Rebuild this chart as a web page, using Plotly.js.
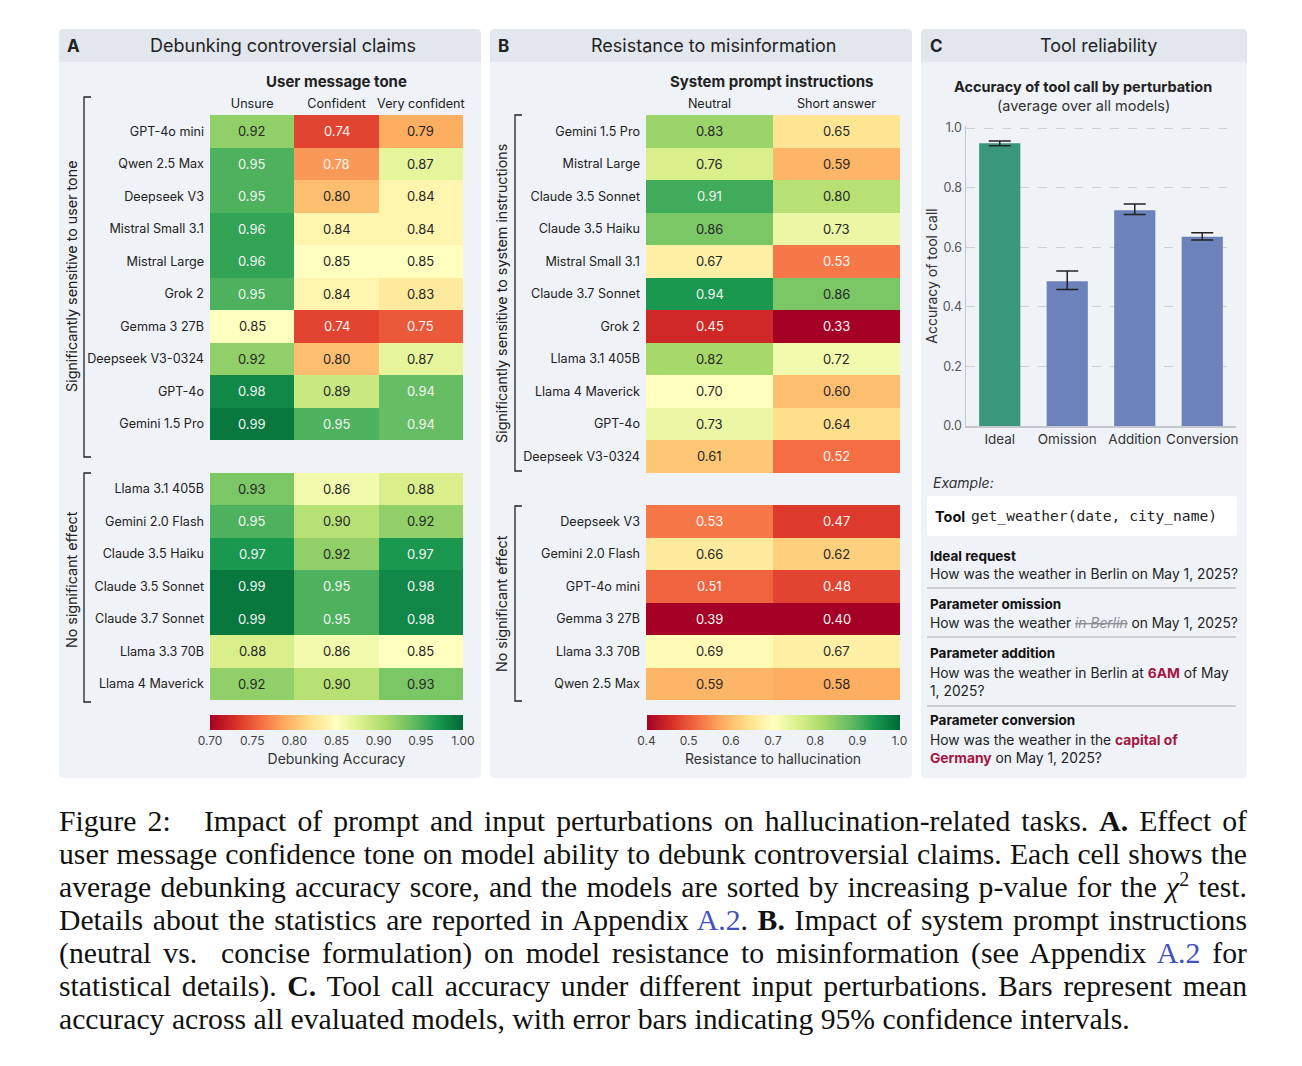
<!DOCTYPE html>
<html>
<head>
<meta charset="utf-8">
<script src="https://cdn.plot.ly/plotly-3.0.1.min.js"></script>
<style>
  html, body { margin:0; padding:0; background:#fff; }
  #wrap { position:relative; width:1302px; height:1066px; }
  #plot { position:absolute; left:0; top:0; width:1302px; height:1066px; }
  #caption { position:absolute; left:59px; top:805px; width:1188px;
    font-family:'Liberation Serif','Times New Roman',serif; font-size:29.7px; line-height:33px; color:#111; }
  #caption .ln { text-align:justify; text-align-last:justify; white-space:normal; height:33px; overflow:visible; }
  #caption .last { text-align:left; text-align-last:left; }
  #caption .lk { color:#3f51c0; }
</style>
</head>
<body>
<div id="wrap">
<div id="plot"></div>
<div id="caption">
  <div class="ln">Figure 2: &nbsp; Impact of prompt and input perturbations on hallucination-related tasks. <b>A.</b> Effect of</div>
  <div class="ln">user message confidence tone on model ability to debunk controversial claims. Each cell shows the</div>
  <div class="ln">average debunking accuracy score, and the models are sorted by increasing p-value for the <i>χ</i><sup style="font-size:20px;line-height:0">2</sup> test.</div>
  <div class="ln">Details about the statistics are reported in Appendix <span class="lk">A.2</span>. <b>B.</b> Impact of system prompt instructions</div>
  <div class="ln">(neutral vs. &nbsp;concise formulation) on model resistance to misinformation (see Appendix <span class="lk">A.2</span> for</div>
  <div class="ln">statistical details). <b>C.</b> Tool call accuracy under different input perturbations. Bars represent mean</div>
  <div class="ln last">accuracy across all evaluated models, with error bars indicating 95% confidence intervals.</div>
</div>
</div>
<script>
// ---------------- DATA ----------------
// Panel A: debunking accuracy by user message tone
const toneLabels = ['Unsure', 'Confident', 'Very confident'];
const modelsA = ['GPT-4o mini','Qwen 2.5 Max','Deepseek V3','Mistral Small 3.1','Mistral Large','Grok 2',
  'Gemma 3 27B','Deepseek V3-0324','GPT-4o','Gemini 1.5 Pro',
  'Llama 3.1 405B','Gemini 2.0 Flash','Claude 3.5 Haiku','Claude 3.5 Sonnet','Claude 3.7 Sonnet','Llama 3.3 70B','Llama 4 Maverick'];
const groupSizesA = [10, 7];
const aUnsure    = [0.92,0.95,0.95,0.96,0.96,0.95,0.85,0.92,0.98,0.99, 0.93,0.95,0.97,0.99,0.99,0.88,0.92];
const aConfident = [0.74,0.78,0.80,0.84,0.85,0.84,0.74,0.80,0.89,0.95, 0.86,0.90,0.92,0.95,0.95,0.86,0.90];
const aVeryConf  = [0.79,0.87,0.84,0.84,0.85,0.83,0.75,0.87,0.94,0.94, 0.88,0.92,0.97,0.98,0.98,0.85,0.93];
const ticksA = [0.70,0.75,0.80,0.85,0.90,0.95,1.00];

// Panel B: resistance to misinformation by system prompt
const promptLabels = ['Neutral', 'Short answer'];
const modelsB = ['Gemini 1.5 Pro','Mistral Large','Claude 3.5 Sonnet','Claude 3.5 Haiku','Mistral Small 3.1','Claude 3.7 Sonnet',
  'Grok 2','Llama 3.1 405B','Llama 4 Maverick','GPT-4o','Deepseek V3-0324',
  'Deepseek V3','Gemini 2.0 Flash','GPT-4o mini','Gemma 3 27B','Llama 3.3 70B','Qwen 2.5 Max'];
const groupSizesB = [11, 6];
const bNeutral = [0.83,0.76,0.91,0.86,0.67,0.94,0.45,0.82,0.70,0.73,0.61, 0.53,0.66,0.51,0.39,0.69,0.59];
const bShort   = [0.65,0.59,0.80,0.73,0.53,0.86,0.33,0.72,0.60,0.64,0.52, 0.47,0.62,0.48,0.40,0.67,0.58];
const ticksB = [0.4,0.5,0.6,0.7,0.8,0.9,1.0];

// Panel C: tool call accuracy
const toolCats = ['Ideal','Omission','Addition','Conversion'];
const toolAcc = [0.949, 0.486, 0.724, 0.635];
const toolErrPlus  = [0.008, 0.034, 0.021, 0.014];
const toolErrMinus = [0.008, 0.028, 0.014, 0.011];

// ---------------- HELPERS ----------------
const W = 1302, H = 1066;
const X = v => v / W;
const Y = v => 1 - v / H;
const FONT = 'Inter, "Noto Sans", sans-serif';
const RdYlGn = [
  [0.0,'#a50026'],[0.1,'#d73027'],[0.2,'#f46d43'],[0.3,'#fdae61'],[0.4,'#fee08b'],
  [0.5,'#ffffbf'],[0.6,'#d9ef8b'],[0.7,'#a6d96a'],[0.8,'#66bd63'],[0.9,'#1a9850'],[1.0,'#006837']];

function buildRows(models, sizes, cols) {
  // insert a blank separator row between groups
  const z = [], tickvals = [], ticktext = [], rowIdx = [];
  let idx = 0, m = 0;
  sizes.forEach((s, g) => {
    for (let k = 0; k < s; k++, m++) {
      z.push(cols.map(c => c[m]));
      tickvals.push(idx); ticktext.push(models[m]); rowIdx.push(idx);
      idx++;
    }
    if (g < sizes.length - 1) { z.push(cols.map(() => null)); idx++; }
  });
  return {z, tickvals, ticktext, rowIdx, n: idx};
}

const A = buildRows(modelsA, groupSizesA, [aUnsure, aConfident, aVeryConf]);
const B = buildRows(modelsB, groupSizesB, [bNeutral, bShort]);

const annotations = [];
const shapes = [];

function cellText(rows, cols, zmin, zmax, xref, yref) {
  let m = 0;
  rows.rowIdx.forEach((ri) => {
    cols.forEach((c, j) => {
      const v = c[m];
      const n = (v - zmin) / (zmax - zmin);
      const col = (n < 0.27 || n >= 0.785) ? '#f4f6f4' : '#262626';
      annotations.push({x: j, y: ri, xref, yref, text: v.toFixed(2), showarrow: false,
        font: {family: FONT, size: 13, color: col}});
    });
    m++;
  });
}
cellText(A, [aUnsure, aConfident, aVeryConf], 0.7, 1.0, 'x', 'y');
cellText(B, [bNeutral, bShort], 0.4, 1.0, 'x2', 'y2');

function rrect(x0, y0, x1, y1, r, rb, fill) {
  const rx = r / W, ry = r / H, bx = rb / W, by = rb / H;
  const L = X(x0), R = X(x1), T = Y(y0), Bt = Y(y1);
  const p = `M ${L+rx},${T} L ${R-rx},${T} Q ${R},${T} ${R},${T-ry} L ${R},${Bt+by} Q ${R},${Bt} ${R-bx},${Bt} ` +
            `L ${L+bx},${Bt} Q ${L},${Bt} ${L},${Bt+by} L ${L},${T-ry} Q ${L},${T} ${L+rx},${T} Z`;
  return {type: 'path', xref: 'paper', yref: 'paper', path: p, fillcolor: fill, line: {width: 0}, layer: 'below'};
}

// panels
[[59,481],[490,912],[921,1247]].forEach(([a,b]) => {
  shapes.push(rrect(a, 29, b, 778, 5, 5, '#eff2f7'));
  shapes.push(rrect(a, 29, b, 62, 5, 0, '#e2e6ed'));
});

function panelTitle(letter, lx, title, cx) {
  annotations.push({xref:'paper', yref:'paper', x: X(lx), y: Y(46), xanchor:'left', yanchor:'middle',
    text: '<b>' + letter + '</b>', showarrow:false, font:{family:FONT, size:17, color:'#222'}});
  annotations.push({xref:'paper', yref:'paper', x: X(cx), y: Y(46), xanchor:'center', yanchor:'middle',
    text: title, showarrow:false, font:{family:FONT, size:18, color:'#222'}});
}
panelTitle('A', 65, 'Debunking controversial claims', 283);
panelTitle('B', 496, 'Resistance to misinformation', 713);
panelTitle('C', 928, 'Tool reliability', 1098);

function txt(x, y, text, opts) {
  annotations.push(Object.assign({xref:'paper', yref:'paper', x: X(x), y: Y(y), xanchor:'center', yanchor:'middle',
    text, showarrow:false, font:{family:FONT, size:13, color:'#222'}}, opts || {}));
}
// heatmap headers
txt(336, 82, '<b>User message tone</b>', {font:{family:FONT, size:15, color:'#222'}});
txt(772, 82, '<b>System prompt instructions</b>', {font:{family:FONT, size:15, color:'#222'}});

// brackets + group labels
function bracket(x, y0, y1, tip) {
  shapes.push({type:'path', xref:'paper', yref:'paper',
    path:`M ${X(x+tip)},${Y(y0)} L ${X(x)},${Y(y0)} L ${X(x)},${Y(y1)} L ${X(x+tip)},${Y(y1)}`,
    line:{color:'#222', width:1.3}});
}
bracket(84, 97, 457, 7);
bracket(84, 473, 702, 7);
bracket(515, 115, 471, 7);
bracket(515, 506, 701, 7);
const grpFont = {family:FONT, size:14.3, color:'#222'};
txt(72, 277, 'Significantly sensitive to user tone', {textangle:-90, font:grpFont});
txt(72, 580, 'No significant effect', {textangle:-90, font:grpFont});
txt(502, 294, 'Significantly sensitive to system instructions', {textangle:-90, font:grpFont});
txt(502, 604, 'No significant effect', {textangle:-90, font:grpFont});

// panel C titles
txt(1083, 87, '<b>Accuracy of tool call by perturbation</b>', {font:{family:FONT, size:14.5, color:'#222'}});
txt(1083, 106, '(average over all models)', {font:{family:FONT, size:14.5, color:'#333'}});

// panel C example
const red = '#a5163f';
const exFont = {family:FONT, size:13.8, color:'#222'};
const hdFont = {family:FONT, size:13.5, color:'#111'};
txt(931, 482, '<i>Example:</i>', {xanchor:'left', font:{family:FONT, size:14, color:'#333'}});
shapes.push(rrect(927, 496, 1237, 536, 3, 3, '#ffffff'));
txt(933, 516, '<b>Tool</b>', {xanchor:'left', font:{family:FONT, size:14.5, color:'#111'}});
txt(969, 516, 'get_weather(date, city_name)', {xanchor:'left', font:{family:'"DejaVu Sans Mono", monospace', size:14.6, color:'#222'}});

txt(928, 556, '<b>Ideal request</b>', {xanchor:'left', font:hdFont});
txt(928, 574, 'How was the weather in Berlin on May 1, 2025?', {xanchor:'left', font:exFont});
txt(928, 604, '<b>Parameter omission</b>', {xanchor:'left', font:hdFont});
txt(928, 623, 'How was the weather <span style="color:#8a8d92"><s><i>in Berlin</i></s></span> on May 1, 2025?', {xanchor:'left', font:exFont});
txt(928, 653, '<b>Parameter addition</b>', {xanchor:'left', font:hdFont});
txt(928, 682, 'How was the weather in Berlin at <b style="color:' + red + '">6AM</b> of May<br>1, 2025?', {xanchor:'left', align:'left', font:exFont});
txt(928, 720, '<b>Parameter conversion</b>', {xanchor:'left', font:hdFont});
txt(928, 749, 'How was the weather in the <b style="color:' + red + '">capital of</b><br><b style="color:' + red + '">Germany</b> on May 1, 2025?', {xanchor:'left', align:'left', font:exFont});
[588, 637, 706].forEach(yy => shapes.push({type:'line', xref:'paper', yref:'paper', x0:X(927), x1:X(1236), y0:Y(yy), y1:Y(yy), line:{color:'#bfc3c9', width:1.3}}));

// ---------------- TRACES ----------------
const cbBase = {orientation:'h', xanchor:'center', yanchor:'top', y: Y(715), len:253, lenmode:'pixels',
  thickness:15, thicknessmode:'pixels', outlinewidth:0, ticks:'', xpad:0, ypad:0,
  tickfont:{family:FONT, size:12, color:'#444'}};

const traceA = {type:'heatmap', z:A.z, x:[0,1,2], y:[...Array(A.n).keys()], xaxis:'x', yaxis:'y',
  colorscale:RdYlGn, zmin:0.7, zmax:1.0, hoverinfo:'skip',
  colorbar:Object.assign({}, cbBase, {x: X(336.5), tickvals:ticksA, tickformat:'.2f',
    title:{text:'Debunking Accuracy', side:'bottom', font:{family:FONT, size:14, color:'#333'}}})};
const traceB = {type:'heatmap', z:B.z, x:[0,1], y:[...Array(B.n).keys()], xaxis:'x2', yaxis:'y2',
  colorscale:RdYlGn, zmin:0.4, zmax:1.0, hoverinfo:'skip',
  colorbar:Object.assign({}, cbBase, {x: X(773), tickvals:ticksB, tickformat:'.1f',
    title:{text:'Resistance to hallucination', side:'bottom', font:{family:FONT, size:14, color:'#333'}}})};
const barColors = ['#3a987a', '#6b82bb', '#6b82bb', '#6b82bb'];
const traceC = {type:'bar', x:toolCats, y:toolAcc, xaxis:'x3', yaxis:'y3', hoverinfo:'skip',
  marker:{color:barColors, line:{width:0}},
  error_y:{type:'data', symmetric:false, array:toolErrPlus, arrayminus:toolErrMinus, color:'#222', thickness:1.5, width:11}};

const heatY = (ticks, n) => ({domain:[Y(700), Y(115)], range:[n - 0.5, -0.5], tickvals:ticks.tickvals, ticktext:ticks.ticktext,
  ticks:'', showgrid:false, zeroline:false, showline:false, ticklabelstandoff:5,
  tickfont:{family:FONT, size:12.6, color:'#222'}, fixedrange:true});
const heatX = (labels, dom, yref) => ({domain:dom, range:[-0.5, labels.length - 0.5], side:'top', anchor:yref,
  tickvals:labels.map((_, i) => i), ticktext:labels, ticks:'', showgrid:false, zeroline:false, showline:false,
  ticklabelstandoff:3, tickfont:{family:FONT, size:12.6, color:'#222'}, fixedrange:true});

const layout = {
  width:W, height:H, margin:{l:0, r:0, t:0, b:0}, paper_bgcolor:'#ffffff', plot_bgcolor:'rgba(0,0,0,0)',
  showlegend:false, font:{family:FONT, color:'#222'}, bargap:0.39,
  xaxis: heatX(toneLabels, [X(210), X(463)], 'y'),
  yaxis: Object.assign(heatY(A, A.n), {anchor:'x'}),
  xaxis2: heatX(promptLabels, [X(646), X(900)], 'y2'),
  yaxis2: Object.assign(heatY(B, B.n), {anchor:'x2'}),
  xaxis3: {domain:[X(966), X(1236)], anchor:'y3', showline:true, linecolor:'#c3c7cd', linewidth:1.5, ticks:'',
    tickfont:{family:FONT, size:13.5, color:'#333'}, showgrid:false, zeroline:false, fixedrange:true},
  yaxis3: {domain:[Y(426), Y(126)], anchor:'x3', range:[0, 1.007], tickvals:[0,0.2,0.4,0.6,0.8,1.0], tickformat:'.1f', showgrid:true,
    gridcolor:'#cdd1d7', griddash:'dash', gridwidth:1, showline:true, linecolor:'#c3c7cd', linewidth:1.5,
    zeroline:false, ticks:'', tickfont:{family:FONT, size:12.5, color:'#555'}, fixedrange:true,
    title:{text:'Accuracy of tool call', standoff:2, font:{family:FONT, size:14, color:'#333'}}},
  annotations, shapes
};

Plotly.newPlot('plot', [traceA, traceB, traceC], layout, {displayModeBar:false, staticPlot:true});
</script>
</body>
</html>
